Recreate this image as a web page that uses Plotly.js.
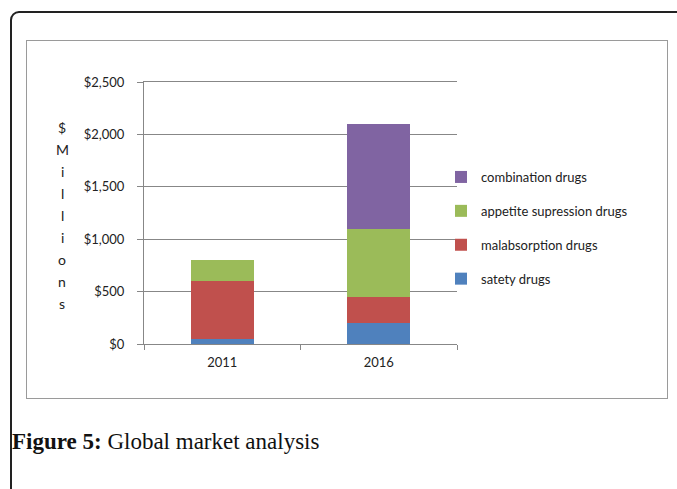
<!DOCTYPE html>
<html>
<head>
<meta charset="utf-8">
<script src="https://cdn.plot.ly/plotly-3.0.1.min.js"></script>
<style>
html,body{margin:0;padding:0;background:#fff;overflow:hidden;}
#wrap{position:relative;width:677px;height:489px;overflow:hidden;background:#fff;}
#outer{position:absolute;left:10px;top:11px;width:720px;height:540px;border:2px solid #222;border-radius:9px;box-sizing:border-box;}
#inner{position:absolute;left:26px;top:40px;width:642px;height:359px;border:1px solid #9a9a9a;box-sizing:border-box;}
#chart{position:absolute;left:0;top:0;width:677px;height:489px;}
</style>
</head>
<body>
<div id="wrap">
  <div id="outer"></div>
  <div id="inner"></div>
  <div id="chart"></div>
</div>
<script>
const years = ['2011', '2016'];
const safetyDrugs = [50, 200];
const malabsorptionDrugs = [550, 250];
const appetiteDrugs = [200, 650];
const combinationDrugs = [0, 1000];
const seriesNames = ['satety drugs', 'malabsorption drugs', 'appetite supression drugs', 'combination drugs'];
const seriesColors = ['#4F81BD', '#C0504D', '#9BBB59', '#8064A2'];
const yTicks = [0, 500, 1000, 1500, 2000, 2500];
const yTickLabels = ['$0', '$500', '$1,000', '$1,500', '$2,000', '$2,500'];
const yTitleLetters = ['$', 'M', 'i', 'l', 'l', 'i', 'o', 'n', 's'];
const captionBold = 'Figure 5:';
const captionText = 'Global market analysis';

const seriesValues = [safetyDrugs, malabsorptionDrugs, appetiteDrugs, combinationDrugs];
const traces = seriesValues.map((vals, i) => ({
  type: 'bar',
  x: years,
  y: vals,
  name: seriesNames[i],
  legendgroup: 'g' + i,
  legendrank: seriesValues.length - i,
  marker: {color: seriesColors[i], line: {width: 0}},
  hoverinfo: 'skip'
}));

const W = 677, H = 489;
const mL = 144, mR = 220, mT = 82, mB = 145;
const pw = W - mL - mR, ph = H - mT - mB;
const px = x => (x - mL) / pw;
const py = y => (H - mB - y) / ph;

const annotations = yTitleLetters.map((ch, i) => ({
  xref: 'paper', yref: 'paper',
  x: px(62), y: py(127 + i * 22.1),
  xanchor: 'center', yanchor: 'middle',
  text: ch, showarrow: false,
  font: {family: 'Lato, "Open Sans", sans-serif', size: 14, color: '#222'}
}));
annotations.push({
  xref: 'paper', yref: 'paper',
  x: px(10), y: py(441),
  xanchor: 'left', yanchor: 'middle',
  text: '<b>' + captionBold + '</b> ' + captionText,
  showarrow: false,
  font: {family: '"Liberation Serif", "DejaVu Serif", serif', size: 23, color: '#111'}
});

const layout = {
  width: W, height: H,
  margin: {l: mL, r: mR, t: mT, b: mB, pad: 0},
  paper_bgcolor: 'rgba(0,0,0,0)',
  plot_bgcolor: 'rgba(0,0,0,0)',
  barmode: 'stack',
  bargap: 0.6,
  showlegend: true,
  font: {family: 'Lato, "Open Sans", sans-serif', size: 12, color: '#222'},
  xaxis: {
    type: 'category',
    showline: true, mirror: true, linecolor: '#878787', linewidth: 1,
    ticks: 'outside', ticklen: 5, tickcolor: '#878787', tickson: 'boundaries',
    showgrid: false, zeroline: false,
    tickfont: {size: 13, color: '#222'},
    ticklabelstandoff: 6,
    fixedrange: true
  },
  yaxis: {
    range: [0, 2500],
    tickmode: 'array',
    tickvals: yTicks,
    ticktext: yTickLabels,
    showline: true, linecolor: '#878787', linewidth: 1,
    ticks: 'outside', ticklen: 6, tickcolor: '#878787',
    showgrid: true, gridcolor: '#878787', gridwidth: 1,
    zeroline: false,
    tickfont: {size: 13, color: '#222'},
    ticklabelstandoff: 10,
    fixedrange: true
  },
  legend: {
    x: px(441), y: py(162),
    xanchor: 'left', yanchor: 'top',
    traceorder: 'grouped',
    tracegroupgap: 14,
    font: {size: 13, color: '#222'},
    itemwidth: 30,
    bgcolor: 'rgba(0,0,0,0)'
  },
  annotations: annotations
};

Plotly.newPlot('chart', traces, layout, {displayModeBar: false, staticPlot: true});
</script>
</body>
</html>
